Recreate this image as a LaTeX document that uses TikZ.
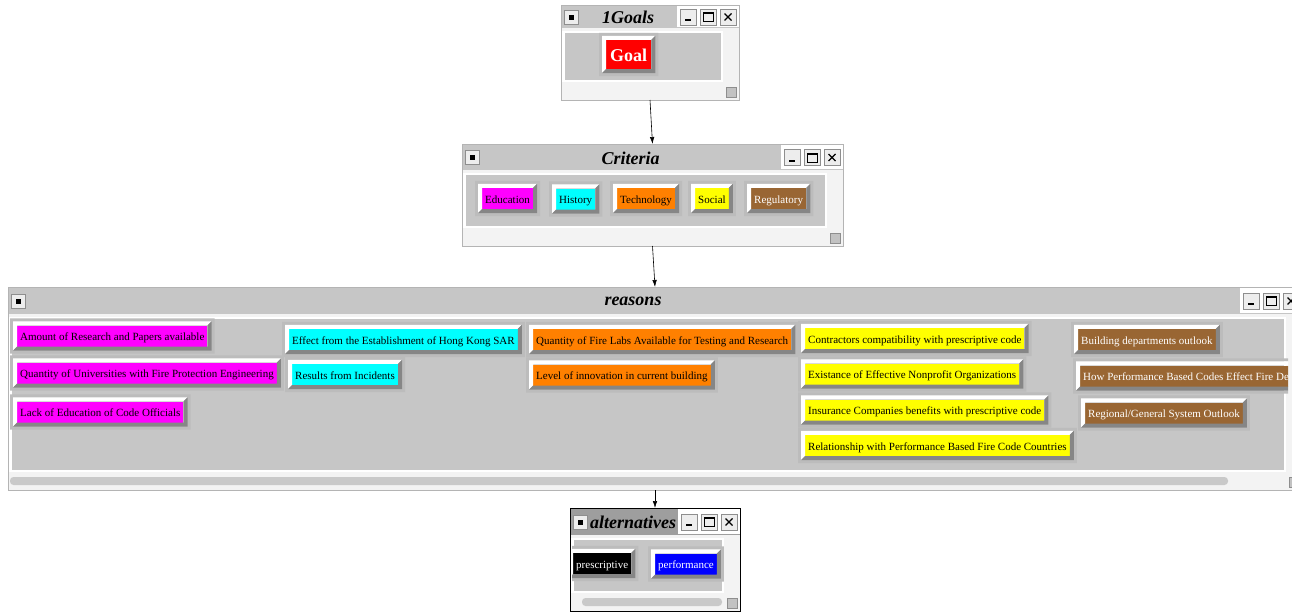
\documentclass[tikz,border=0pt]{standalone}
\usepackage{fontspec}
\setmainfont{Liberation Serif}
\usetikzlibrary{arrows.meta}

\definecolor{wingray}{HTML}{C6C6C6}
\definecolor{padgray}{HTML}{BCBCBC}
\definecolor{shadegray}{HTML}{868686}
\definecolor{edgegray}{HTML}{B4B4B4}
\definecolor{lightbar}{HTML}{F3F3F3}
\definecolor{darkbar}{HTML}{9E9E9E}
\definecolor{btnedge}{HTML}{8E8E8E}
\definecolor{tbtnfill}{HTML}{EDEDED}
\definecolor{resgray}{HTML}{C2C2C2}
\definecolor{thumbgray}{HTML}{C9C9C9}
\definecolor{goalred}{HTML}{FF0000}
\definecolor{edupink}{HTML}{FF00FF}
\definecolor{histcyan}{HTML}{00FFFF}
\definecolor{techorange}{HTML}{FF8000}
\definecolor{socyellow}{HTML}{FFFF00}
\definecolor{regbrown}{HTML}{996633}
\definecolor{perfblue}{HTML}{0000FF}

\newcommand\btnfont{\fontsize{11}{13}\selectfont}
\newcommand\titlefont{\fontsize{18}{21}\selectfont\bfseries\itshape}
\newcommand\goalfont{\fontsize{18}{21}\selectfont\bfseries}

% raised frame round a button node
\newcommand\bevel[1]{%
  \fill[padgray,even odd rule]
    ([xshift=-7pt,yshift=7pt]#1.north west) rectangle ([xshift=7pt,yshift=-7pt]#1.south east)
    ([xshift=-4pt,yshift=4pt]#1.north west) rectangle ([xshift=4pt,yshift=-4pt]#1.south east);
  \fill[white] ([xshift=-4pt,yshift=4pt]#1.north west) -- ([xshift=4pt,yshift=4pt]#1.north east)
    -- (#1.north east) -- (#1.north west) -- (#1.south west)
    -- ([xshift=-4pt,yshift=-4pt]#1.south west) -- cycle;
  \fill[shadegray] ([xshift=4pt,yshift=4pt]#1.north east) -- ([xshift=4pt,yshift=-4pt]#1.south east)
    -- ([xshift=-4pt,yshift=-4pt]#1.south west) -- (#1.south west) -- (#1.south east)
    -- (#1.north east) -- cycle;
}

% window: name, x1, y1, x2, y2, title, bar colour, bar height
\newcommand\appwin[8]{%
  \pgfmathsetmacro\winy{#3+#8/2+0.5}
  \node[winbox, minimum width={#4-#2}, minimum height={#5-#3}] (#1) at (#2,#3) {};
  \fill[#7] ({#2+0.5},{#3+0.5}) rectangle ({#4-0.5},{#3+#8});
  \fill[white] ({#4-62},{#3+0.5}) rectangle ({#4-0.5},{#3+#8-1});
  \draw[tbtn] ({#2+3},{\winy-7}) rectangle ({#2+17},{\winy+7});
  \fill ({#2+7.5},{\winy-2.5}) rectangle ({#2+12.5},{\winy+2.5});
  \foreach \k in {0,1,2}
    \draw[tbtn] ({#4-59+20*\k},{\winy-8}) rectangle ({#4-43+20*\k},{\winy+8});
  \fill ({#4-54},{\winy+2}) rectangle ({#4-48},{\winy+4});
  \draw[line width=0.8pt] ({#4-36},{\winy-4.5}) rectangle ({#4-26},{\winy+4.5});
  \fill ({#4-36},{\winy-5}) rectangle ({#4-26},{\winy-3});
  \draw[line width=1.1pt] ({#4-14.5},{\winy-3.5}) -- ({#4-7.5},{\winy+3.5})
    ({#4-14.5},{\winy+3.5}) -- ({#4-7.5},{\winy-3.5});
  \fill[white] ({#2+1},{#3+#8+3}) rectangle ({#4-16},{#5-18});
  \fill[wingray] ({#2+4},{#3+#8+5}) rectangle ({#4-18},{#5-20});
  \draw[tbtn, fill=resgray] ({#4-13},{#5-13}) rectangle ({#4-3},{#5-3});
  \node[wintitle] (#1-title) at ({(#2+#4-44)/2},{#3+#8/2+1}) {#6};
}

\begin{document}
\begin{tikzpicture}[x=1pt, y=-1pt,
  winbox/.style={draw=edgegray, fill=lightbar, anchor=north west, inner sep=0pt, outer sep=0pt},
  tbtn/.style={draw=btnedge, fill=tbtnfill, line width=0.8pt},
  wintitle/.style={font=\titlefont, inner sep=0pt},
  btn/.style={fill=#1, anchor=west, inner xsep=3pt, inner ysep=0pt, minimum height=21,
    text height=9.5pt, text depth=0pt, font=\btnfont},
  btnw/.style={btn=#1, text=white},
  link/.style={-{Latex[length=7pt,width=4.5pt]}, line width=0.6pt}]

\clip (0,0) rectangle (1292,613);
\fill[white] (0,0) rectangle (1292,613);

% the four windows
\appwin{wGoals}{561}{5}{739}{100}{1Goals}{wingray}{23}
\appwin{wCrit}{462}{144}{843}{246}{Criteria}{wingray}{26}
\appwin{wReas}{8}{287}{1302}{490}{reasons}{wingray}{27}
\appwin{wAlt}{570}{508}{740}{611}{alternatives}{darkbar}{27}
\draw (wAlt.north west) rectangle (wAlt.south east);

% scroll thumbs
\fill[thumbgray, rounded corners=3.5] (10,477) rectangle (1228,485);
\fill[thumbgray, rounded corners=3.5] (582,598) rectangle (722,606);

% links between levels
\draw[link] (wGoals.south) -- (wCrit.north);
\draw[link] (wCrit.south) -- (wReas.north);
\draw[link] (wReas.south) -- (wAlt.north);

% goal
\node[btnw=goalred, font=\goalfont, minimum height=29, inner xsep=4pt,
  text height=13pt] (goal) at (606,54.5) {Goal};

% criteria
\node[btn=edupink] (crEdu) at (482,198.5) {Education};
\node[btn=histcyan] (crHist) at (556,199) {History};
\node[btn=techorange] (crTech) at (617,198.5) {Technology};
\node[btn=socyellow] (crSoc) at (695,198.5) {Social};
\node[btnw=regbrown] (crReg) at (751,198.5) {Regulatory};

\foreach \b in {goal,crEdu,crHist,crTech,crSoc,crReg} {\bevel{\b}}

% reasons
\begin{scope}
\clip (10,317) rectangle (1288,470);
\node[btn=edupink] (rsAmount) at (17,336) {Amount of Research and Papers available};
\node[btn=edupink] (rsUniv) at (17,373) {Quantity of Universities with Fire Protection Engineering};
\node[btn=edupink] (rsLack) at (17,412) {Lack of Education of Code Officials};
\node[btn=histcyan] (rsHongKong) at (289,339.5) {Effect from the Establishment of Hong Kong SAR};
\node[btn=histcyan] (rsIncid) at (292,374.5) {Results from Incidents};
\node[btn=techorange] (rsLabs) at (533,339.5) {Quantity of Fire Labs Available for Testing and Research};
\node[btn=techorange] (rsInnov) at (533,375) {Level of innovation in current building};
\node[btn=socyellow] (rsContr) at (805,338.5) {Contractors compatibility with prescriptive code};
\node[btn=socyellow] (rsNonprof) at (805,374) {Existance of Effective Nonprofit Organizations};
\node[btn=socyellow] (rsInsur) at (805,410) {Insurance Companies benefits with prescriptive code};
\node[btn=socyellow] (rsRelat) at (805,445.5) {Relationship with Performance Based Fire Code Countries};
\node[btnw=regbrown] (rsBuild) at (1078,339.5) {Building departments outlook};
\node[btnw=regbrown] (rsHowPerf) at (1080,376) {\makebox[214pt][l]{How Performance Based Codes Effect Fire De}};
\node[btnw=regbrown] (rsRegion) at (1085,413) {Regional/General System Outlook};
\foreach \b in {rsAmount,rsUniv,rsLack,rsHongKong,rsIncid,rsLabs,rsInnov,
  rsContr,rsNonprof,rsInsur,rsRelat,rsBuild,rsHowPerf,rsRegion} {\bevel{\b}}
\end{scope}

% alternatives
\begin{scope}
\clip (572,538) rectangle (724,593);
\node[btnw=black] (altPresc) at (573,563.5) {prescriptive};
\node[btnw=perfblue] (altPerf) at (655,564) {performance};
\foreach \b in {altPresc,altPerf} {\bevel{\b}}
\end{scope}

\end{tikzpicture}
\end{document}
